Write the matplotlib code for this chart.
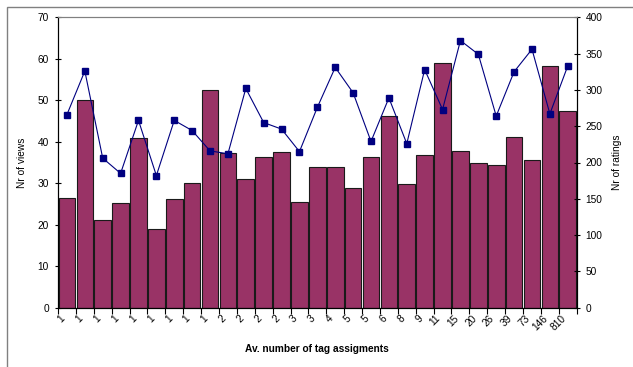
import matplotlib
matplotlib.use("Agg")
import matplotlib.pyplot as plt
from matplotlib.patches import Rectangle

plt.rcParams['font.family'] = ['Liberation Sans', 'DejaVu Sans']

# Average number of tag assignments per group (x categories)
tag_labels = ["1", "1", "1", "1", "1", "1", "1", "1", "1",
              "2", "2", "2", "2", "3", "3", "4", "5", "5", "6", "8", "9",
              "11", "15", "20", "26", "39", "73", "146", "810"]

# Number of views (bars, left axis)
views = [26.5, 50.0, 21.1, 25.2, 41.0, 18.9, 26.1, 30.1, 52.4,
         37.4, 31.0, 36.3, 37.6, 25.4, 34.0, 34.0, 28.8, 36.3, 46.1,
         29.7, 36.9, 59.0, 37.8, 35.0, 34.4, 41.1, 35.5, 58.3, 47.3]

# Number of ratings (line, right axis)
ratings = [266, 326, 206, 185, 258, 182, 258, 244, 216,
           212, 302, 255, 246, 215, 276, 331, 296, 229, 289,
           226, 328, 273, 368, 349, 264, 325, 356, 267, 333]

W, H, DPI = 633, 367, 100
fig = plt.figure(figsize=(W / DPI, H / DPI), dpi=DPI, facecolor="white")

# chart-area frame
fig.patches.append(Rectangle((7 / W, -0.05), 1.2, 1 - 7 / H + 0.05,
                             transform=fig.transFigure, fill=False,
                             edgecolor="#808080", linewidth=1.0))

left, right = 58 / W, 576.7 / W
bottom, top = 1 - 307.7 / H, 1 - 17.3 / H
ax = fig.add_axes([left, bottom, right - left, top - bottom])
ax2 = ax.twinx()

x = list(range(len(views)))
ax.bar(x, views, width=0.93, color="#993366", edgecolor="#1a1a1a",
       linewidth=0.8, zorder=2)
ax.set_xlim(-0.5, len(views) - 0.5)
ax.set_ylim(0, 70)
ax.set_yticks(range(0, 71, 10))

ax2.plot(x, ratings, color="#000080", linewidth=0.8, marker="s",
         markersize=4.8, markerfacecolor="#000080",
         markeredgecolor="#000080")
ax2.set_ylim(0, 400)
ax2.set_yticks(range(0, 401, 50))

fs = 7.3
ax.set_xticks(x)
ax.set_xticklabels(tag_labels, rotation=45, ha="right", fontsize=fs)
ax.set_xticks([i - 0.5 for i in range(len(views) + 1)], minor=True)
ax.tick_params(axis="x", which="major", length=0, pad=4)
ax.tick_params(axis="x", which="minor", length=4, direction="out",
               width=0.8, color="black")
ax.tick_params(axis="y", direction="inout", length=5, width=0.8,
               labelsize=fs, pad=4)
ax2.tick_params(axis="y", direction="inout", length=5, width=0.8,
                labelsize=fs, pad=4)

for a in (ax, ax2):
    a.spines["top"].set_color("#808080")
    a.spines["top"].set_linewidth(0.8)
    for s in ("left", "right", "bottom"):
        a.spines[s].set_color("black")
        a.spines[s].set_linewidth(0.8)

ax.set_ylabel("Nr of views", fontsize=fs)
ax.yaxis.set_label_coords(-0.060, 0.5)
ax2.set_ylabel("Nr of ratings", fontsize=fs)
ax2.yaxis.set_label_coords(1.068, 0.5)

fig.text((58 + 576.7) / 2 / W, 1 - 349 / H, "Av. number of tag assigments",
         ha="center", va="center", fontsize=fs, fontweight="bold")

fig.savefig("out.png", dpi=DPI, facecolor="white")
